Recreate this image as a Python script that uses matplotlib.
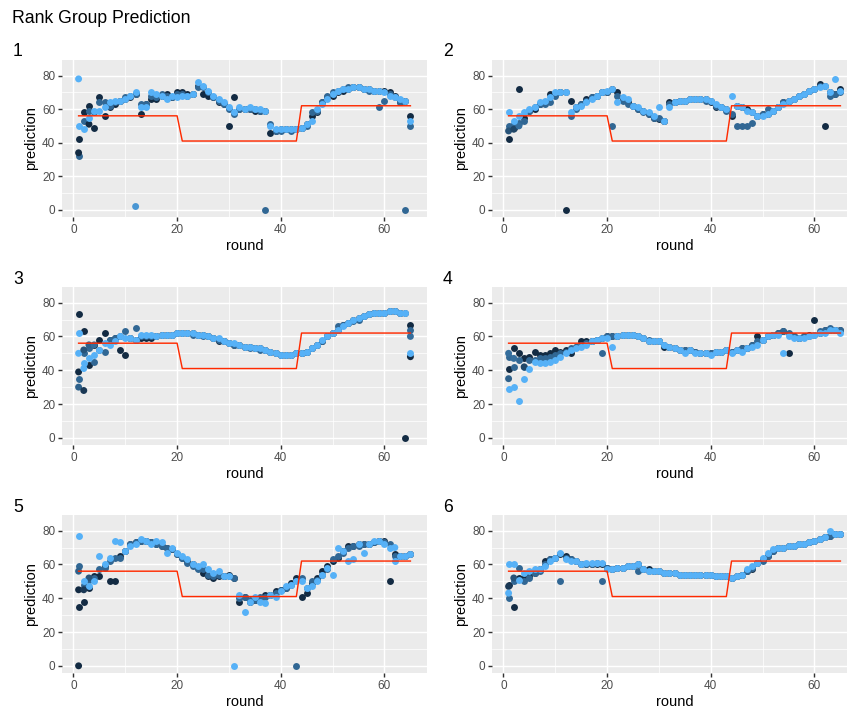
import matplotlib
matplotlib.use("Agg")
import matplotlib.pyplot as plt
from matplotlib.colors import LinearSegmentedColormap
import numpy as np

plt.rcParams['font.family'] = ['Liberation Sans', 'DejaVu Sans']

title = "Rank Group Prediction"
rounds = list(range(1, 66))
# target (red line) per round
target = [56, 56, 56, 56, 56, 56, 56, 56, 56, 56, 56, 56, 56, 56, 56, 56, 56, 56, 56, 56,
          41, 41, 41, 41, 41, 41, 41, 41, 41, 41, 41, 41, 41, 41, 41, 41, 41, 41, 41, 41, 41, 41, 41,
          62, 62, 62, 62, 62, 62, 62, 62, 62, 62, 62, 62, 62, 62, 62, 62, 62, 62, 62, 62, 62, 62]

facet_names = ["1", "2", "3", "4", "5", "6"]

# ---- facet 1 ----
light_1 = [50, 48, 55, 59, 59, 61, 64, 65, 65, 66, 68, 70, 61, 61, 70, 69, 68, 66, 68, 67, 68, 68, 69, 76, 74, 71, 68, 66, 64, 61, 58, 61, 60, 61, 60, 60, 59, 50, 48, 48, 48, 48, 48, 49, 51, 53, 60, 63, 66, 69, 71, 72, 72, 73, 73, 72, 72, 71, 71, 70, 68, 67, 66, 65, 53]
mid_1 = [32, 53, 59, 58, 64, 64, 62, 64, 65, 67, 68, 69, 63, 63, 68, 67, 69, 68, 67, 69, 69, 68, 69, 73, 73, 70, 67, 65, 63, 60, 57, 60, 60, 60, 60, 59, 0, 51, 47, 47, 48, 47, 48, 49, 50, 58, 59, 64, 68, 70, 71, 72, 73, 73, 73, 72, 71, 71, 61, 65, 69, 67, 64, 0, 50]
dark_1 = [42, 58, 62, 49, 67, 56, 61, 63, 65, 66, 67, 69, 57, 63, 66, 66, 68, 69, 67, 70, 70, 69, 69, 74, 69, 68, 67, 64, 63, 50, 67, 60, 60, 60, 59, 59, 59, 46, 47, 48, 48, 48, 48, 49, 51, 56, 58, 64, 67, 68, 70, 71, 72, 73, 73, 72, 72, 71, 71, 71, 70, 68, 64, 65, 56]
extra_r_1 = [1, 1, 3, 12]
extra_v_1 = [78, 34, 51, 2]
extra_c_1 = [1.0, 0.0, 0.0, 0.8]

# ---- facet 2 ----
light_2 = [58, 53, 56, 58, 60, 61, 64, 65, 67, 70, 70, 70, 58, 61, 62, 64, 66, 68, 70, 71, 72, 64, 67, 66, 62, 61, 59, 58, 56, 61, 53, 61, 64, 65, 65, 66, 66, 66, 66, 65, 63, 61, 60, 68, 62, 61, 59, 58, 56, 56, 57, 59, 61, 63, 65, 66, 68, 69, 71, 72, 73, 74, 70, 78, 71]
mid_2 = [50, 51, 52, 53, 59, 61, 63, 63, 64, 68, 70, 70, 56, 60, 63, 65, 67, 68, 70, 70, 50, 68, 65, 63, 62, 60, 58, 57, 55, 55, 53, 63, 64, 65, 65, 66, 66, 66, 65, 65, 62, 61, 59, 57, 50, 50, 50, 52, 56, 57, 60, 59, 61, 64, 65, 66, 68, 69, 71, 72, 74, 74, 68, 69, 70]
dark_2 = [42, 49, 72, 55, 59, 60, 63, 64, 69, 69, 70, 0, 65, 61, 63, 66, 67, 68, 70, 70, 72, 70, 66, 64, 62, 60, 59, 57, 55, 54, 53, 64, 64, 65, 65, 66, 66, 66, 66, 64, 61, 61, 60, 56, 62, 61, 60, 58, 56, 57, 57, 59, 61, 64, 65, 66, 68, 69, 71, 72, 75, 50, 70, 69, 72]
extra_r_2 = [1, 2, 3]
extra_v_2 = [47, 48, 50]
extra_c_2 = [0.3, 0.2, 0.5]

# ---- facet 3 ----
light_3 = [62, 44, 47, 49, 52, 56, 55, 57, 60, 59, 59, 58, 61, 61, 61, 60, 61, 61, 61, 62, 62, 62, 62, 61, 61, 60, 59, 59, 57, 56, 56, 55, 54, 54, 53, 53, 52, 51, 50, 49, 49, 49, 50, 50, 51, 53, 55, 58, 60, 62, 64, 66, 68, 70, 71, 72, 73, 74, 74, 74, 75, 75, 74, 74, 50]
mid_3 = [35, 50, 53, 45, 52, 51, 58, 59, 60, 63, 59, 65, 60, 60, 60, 60, 61, 61, 61, 62, 62, 62, 61, 61, 60, 60, 59, 58, 57, 56, 55, 55, 54, 53, 53, 52, 52, 51, 50, 49, 49, 49, 50, 50, 51, 53, 55, 57, 60, 62, 66, 67, 68, 69, 70, 72, 73, 74, 74, 74, 75, 75, 74, 74, 64]
dark_3 = [73, 63, 43, 55, 58, 62, 58, 59, 52, 49, 59, 58, 59, 59, 59, 60, 61, 61, 61, 62, 62, 62, 62, 61, 61, 60, 59, 57, 57, 56, 55, 55, 54, 54, 53, 53, 52, 51, 50, 49, 49, 49, 50, 50, 51, 53, 55, 57, 60, 62, 64, 67, 68, 70, 71, 72, 73, 74, 74, 74, 75, 75, 74, 0, 67]
extra_r_3 = [1, 1, 1, 2, 2, 2, 3, 4, 65, 65]
extra_v_3 = [50, 39, 30, 52, 41, 28, 55, 55, 60, 48]
extra_c_3 = [1.0, 0.0, 0.4, 0.3, 1.0, 0.1, 0.4, 0.5, 0.5, 0.0]

# ---- facet 4 ----
light_4 = [29, 30, 22, 35, 41, 45, 44, 44, 45, 46, 48, 50, 52, 53, 54, 55, 57, 58, 59, 59, 54, 60, 61, 61, 61, 60, 59, 57, 57, 57, 55, 54, 53, 52, 50, 52, 50, 50, 50, 49, 51, 51, 52, 50, 52, 51, 53, 54, 55, 58, 60, 61, 61, 50, 60, 59, 59, 59, 60, 61, 62, 62, 64, 64, 62]
mid_4 = [48, 42, 46, 42, 46, 46, 47, 47, 48, 49, 50, 51, 53, 54, 55, 56, 57, 58, 50, 60, 60, 60, 61, 61, 61, 60, 59, 58, 57, 57, 55, 54, 53, 52, 52, 52, 51, 50, 50, 50, 51, 51, 52, 51, 52, 53, 53, 55, 57, 58, 60, 61, 62, 63, 62, 60, 59, 60, 60, 61, 63, 64, 65, 64, 64]
dark_4 = [41, 53, 50, 47, 48, 51, 49, 49, 50, 52, 51, 52, 50, 54, 57, 57, 57, 58, 59, 60, 60, 60, 61, 61, 61, 60, 59, 57, 57, 57, 54, 54, 53, 52, 52, 52, 51, 50, 50, 50, 51, 51, 52, 51, 52, 53, 53, 55, 60, 58, 60, 61, 62, 63, 50, 60, 59, 60, 61, 70, 62, 64, 64, 64, 64]
extra_r_4 = [1, 1, 2, 4]
extra_v_4 = [50, 35, 47, 42]
extra_c_4 = [0.5, 0.4, 0.5, 0.2]

# ---- facet 5 ----
light_5 = [77, 50, 47, 50, 65, 60, 64, 74, 73, 68, 71, 72, 75, 74, 72, 74, 73, 67, 70, 67, 65, 63, 60, 59, 60, 57, 55, 56, 53, 53, 0, 42, 32, 38, 41, 38, 37, 42, 41, 44, 47, 48, 50, 50, 46, 47, 50, 54, 58, 54, 70, 68, 62, 63, 72, 67, 72, 74, 74, 72, 70, 62, 65, 65, 66]
mid_5 = [59, 48, 51, 52, 57, 58, 62, 64, 64, 68, 72, 73, 74, 74, 73, 72, 71, 70, 69, 66, 64, 61, 59, 57, 57, 54, 53, 54, 53, 53, 52, 40, 41, 39, 39, 41, 41, 42, 43, 45, 46, 48, 0, 52, 46, 50, 51, 54, 57, 63, 65, 67, 70, 71, 71, 72, 72, 73, 74, 73, 72, 65, 65, 65, 66]
dark_5 = [35, 38, 46, 53, 53, 59, 50, 50, 65, 68, 72, 73, 74, 74, 73, 72, 71, 70, 69, 66, 64, 62, 60, 58, 55, 53, 52, 53, 53, 54, 52, 38, 41, 38, 39, 40, 42, 42, 44, 45, 46, 49, 52, 41, 43, 49, 52, 56, 59, 62, 64, 68, 71, 71, 72, 72, 72, 73, 74, 74, 50, 66, 65, 65, 66]
extra_r_5 = [1, 1, 1, 2, 3, 62]
extra_v_5 = [45, 0, 56, 45, 52, 70]
extra_c_5 = [0.0, 0.0, 0.4, 0.1, 0.3, 1.0]

# ---- facet 6 ----
light_6 = [60, 60, 51, 55, 56, 57, 57, 59, 62, 64, 67, 63, 62, 62, 60, 61, 61, 61, 61, 57, 57, 58, 58, 59, 59, 60, 57, 56, 56, 56, 55, 55, 55, 54, 54, 54, 54, 54, 54, 54, 53, 53, 53, 52, 53, 54, 57, 59, 61, 64, 67, 69, 70, 70, 71, 71, 72, 72, 73, 74, 75, 76, 80, 78, 78]
mid_6 = [40, 50, 58, 50, 52, 55, 56, 60, 63, 64, 50, 64, 63, 62, 60, 60, 60, 61, 50, 58, 57, 58, 58, 59, 59, 56, 57, 56, 56, 56, 55, 55, 55, 54, 54, 54, 54, 54, 54, 54, 53, 53, 53, 52, 53, 54, 56, 58, 61, 62, 65, 68, 70, 70, 71, 71, 72, 72, 73, 74, 75, 76, 77, 78, 78]
dark_6 = [48, 35, 52, 52, 53, 55, 57, 62, 63, 64, 66, 65, 63, 62, 60, 60, 60, 60, 60, 58, 57, 58, 58, 59, 59, 60, 57, 57, 56, 56, 55, 55, 55, 54, 54, 54, 54, 54, 54, 54, 53, 53, 53, 52, 53, 54, 56, 57, 61, 63, 65, 68, 70, 70, 71, 71, 72, 72, 73, 74, 75, 76, 77, 78, 78]
extra_r_6 = [1, 1, 2]
extra_v_6 = [47, 43, 52]
extra_c_6 = [0.1, 1.0, 0.3]

facets = [
    (light_1, mid_1, dark_1, extra_r_1, extra_v_1, extra_c_1),
    (light_2, mid_2, dark_2, extra_r_2, extra_v_2, extra_c_2),
    (light_3, mid_3, dark_3, extra_r_3, extra_v_3, extra_c_3),
    (light_4, mid_4, dark_4, extra_r_4, extra_v_4, extra_c_4),
    (light_5, mid_5, dark_5, extra_r_5, extra_v_5, extra_c_5),
    (light_6, mid_6, dark_6, extra_r_6, extra_v_6, extra_c_6),
]

cmap = LinearSegmentedColormap.from_list("gg", ["#132B43", "#56B1F7"])
LEVEL_DARK, LEVEL_MID, LEVEL_LIGHT = 0.0, 0.45, 1.0

W, H = 847, 712
fig = plt.figure(figsize=(W / 96, H / 96), dpi=96)

rows = [(60, 217), (287, 445), (515, 673)]
cols = [(62, 427), (492, 857)]
label_x = [13, 443]

PT = 2.2
for i, (light, mid, dark, er, ev, ec) in enumerate(facets):
    r, c = divmod(i, 2)
    t, b = rows[r]
    l, rr = cols[c]
    ax = fig.add_axes([l / W, 1 - b / H, (rr - l) / W, (b - t) / H])
    ax.set_facecolor("#EBEBEB")
    for s in ax.spines.values():
        s.set_visible(False)
    ax.set_xlim(-2.2, 68.2)
    ax.set_ylim(-4.25, 89.25)
    ax.set_xticks([0, 20, 40, 60])
    ax.set_xticks([10, 30, 50], minor=True)
    ax.set_yticks([0, 20, 40, 60, 80])
    ax.set_yticks([10, 30, 50, 70], minor=True)
    ax.grid(True, which="major", color="white", lw=1.07)
    ax.grid(True, which="minor", color="white", lw=0.53)
    ax.set_axisbelow(True)
    ax.tick_params(which="major", length=2.75, width=1.07, color="#333333",
                   labelcolor="#4D4D4D", labelsize=8.8, pad=2.2)
    ax.tick_params(which="minor", length=0)

    ax.scatter(rounds, dark, s=27, color=cmap(LEVEL_DARK), linewidths=0, zorder=3)
    ax.scatter(rounds, mid, s=27, color=cmap(LEVEL_MID), linewidths=0, zorder=3)
    ax.scatter(er, ev, s=27, c=[cmap(v) for v in ec], linewidths=0, zorder=3)
    ax.scatter(rounds, light, s=27, color=cmap(LEVEL_LIGHT), linewidths=0, zorder=3)
    ax.plot(rounds, target, color="#FF2A00", lw=1.07, zorder=4)

    ax.set_xlabel("round", fontsize=11, color="black", labelpad=2.75)
    ax.set_ylabel("prediction", fontsize=11, color="black", labelpad=2.75)

    fig.text(label_x[c] / W, 1 - (t - 3.5) / H, facet_names[i], fontsize=13.2,
             ha="left", va="baseline", color="black")

fig.text(12 / W, 1 - 22.7 / H, title, fontsize=13.2, ha="left", va="baseline", color="black")

fig.savefig("out.png", dpi=96)
